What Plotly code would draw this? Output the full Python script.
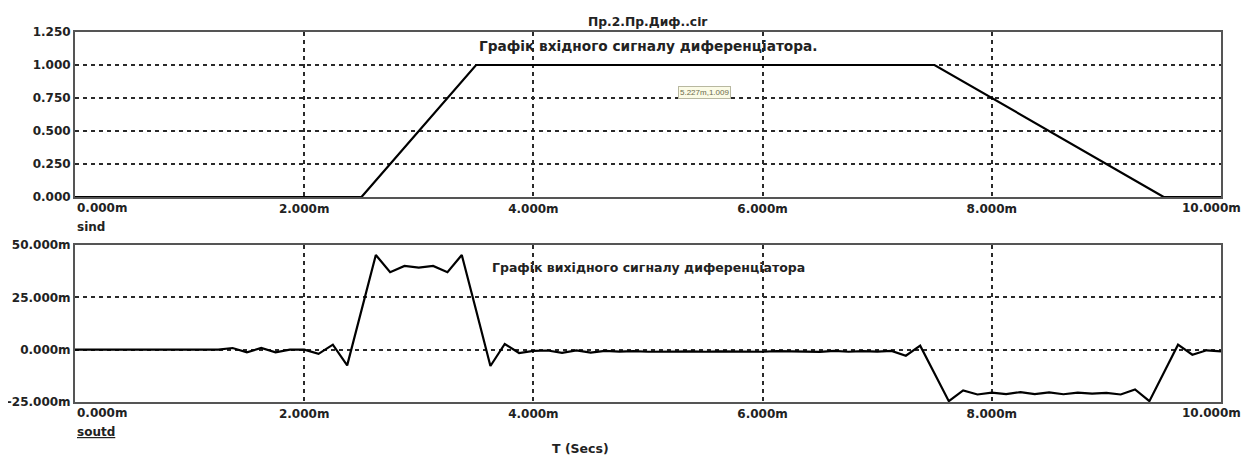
import plotly.graph_objects as go

# ---- data ----
t_in = [0.0, 2.5, 3.5, 7.5, 9.5, 10.0]          # ms
v_in = [0.0, 0.0, 1.0, 1.0, 0.0, 0.0]

t_out = [0.0, 0.125, 0.25, 0.375, 0.5, 0.625, 0.75, 0.875, 1.0, 1.125,
         1.25, 1.375, 1.5, 1.625, 1.75, 1.875, 2.0, 2.125, 2.25, 2.375,
         2.5, 2.625, 2.75, 2.875, 3.0, 3.125, 3.25, 3.375, 3.5, 3.625,
         3.75, 3.875, 4.0, 4.125, 4.25, 4.375, 4.5, 4.625, 4.75, 4.875,
         5.0, 5.125, 5.25, 5.375, 5.5, 5.625, 5.75, 5.875, 6.0, 6.125,
         6.25, 6.375, 6.5, 6.625, 6.75, 6.875, 7.0, 7.125, 7.25, 7.375,
         7.5, 7.625, 7.75, 7.875, 8.0, 8.125, 8.25, 8.375, 8.5, 8.625,
         8.75, 8.875, 9.0, 9.125, 9.25, 9.375, 9.5, 9.625, 9.75, 9.875,
         10.0]
v_out = [0, 0, 0, 0, 0, 0, 0, 0, 0, 0,
         0, 0.8, -1.3, 0.8, -1.3, 0.0, 0.0, -2.0, 2.4, -7.5,
         18.8, 45.2, 37.0, 40.0, 39.2, 40.0, 37.0, 45.2, 18.8, -7.8,
         2.7, -1.6, -0.6, -0.4, -1.5, -0.3, -1.4, -0.6, -0.9, -0.7,
         -1.0, -0.8, -0.9, -0.8, -1.0, -0.8, -0.9, -0.8, -1.0, -0.7,
         -0.9, -0.8, -1.1, -0.6, -1.0, -0.7, -0.9, -0.6, -2.9, 1.9,
         -11.4, -24.6, -19.5, -21.4, -20.5, -21.2, -20.3, -21.2, -20.4, -21.3,
         -20.5, -21.0, -20.6, -21.4, -19.0, -24.6, -11.1, 2.4, -2.4, -0.3,
         -0.8]

x_ticks = [2, 4, 6, 8]
x_ticktext = ["2.000m", "4.000m", "6.000m", "8.000m"]
x_first_label = "0.000m"
x_last_label = "10.000m"
y1_ticks = [0, 0.25, 0.5, 0.75, 1.0, 1.25]
y1_ticktext = ["0.000", "0.250", "0.500", "0.750", "1.000", "1.250"]
y2_ticks = [-25, 0, 25, 50]
y2_ticktext = ["-25.000m", "0.000m", "25.000m", "50.000m"]

title_text = "Пр.2.Пр.Диф..cir"
top_label = "Графік вхідного сигналу диференціатора."
bot_label = "Графік вихідного сигналу диференціатора"
cursor_text = "5.227m,1.009"

FONT = "DejaVu Sans, Verdana, sans-serif"
TXT = "#222222"
GRID = "#2a2a2a"
FRAME = "#555555"

fig = go.Figure()
fig.add_trace(go.Scatter(x=t_in, y=v_in, mode="lines", xaxis="x", yaxis="y",
                         line=dict(color="black", width=2.2), showlegend=False))
fig.add_trace(go.Scatter(x=t_out, y=v_out, mode="lines", xaxis="x2", yaxis="y2",
                         line=dict(color="black", width=2.2), showlegend=False))

axis_common = dict(showline=True, mirror=True, linecolor=FRAME, linewidth=2,
                   showgrid=True, gridcolor=GRID, gridwidth=1.5, griddash="4px,4px",
                   zeroline=False, ticks="", automargin=False,
                   tickfont=dict(family=FONT, size=12, color=TXT, weight="bold"))

# page has an 8px body margin; figure is sized/offset to compensate
fig.update_layout(
    width=1250, height=447,
    margin=dict(l=67, r=37, t=24, b=53),
    paper_bgcolor="white", plot_bgcolor="white",
    xaxis=dict(domain=[0, 1], anchor="y", range=[0, 10], tickvals=x_ticks,
               ticktext=x_ticktext, **axis_common),
    yaxis=dict(domain=[0.554, 1], anchor="x", range=[0, 1.25], tickvals=y1_ticks,
               ticktext=y1_ticktext, **axis_common),
    xaxis2=dict(domain=[0, 1], anchor="y2", range=[0, 10], tickvals=x_ticks,
                ticktext=x_ticktext, **axis_common),
    yaxis2=dict(domain=[0, 0.4243], anchor="x2", range=[-25, 50], tickvals=y2_ticks,
                ticktext=y2_ticktext, **axis_common),
)

bold12 = dict(family=FONT, size=12, color=TXT, weight="bold")
ann = []
for xr, yr in (("x", "y domain"), ("x2", "y2 domain")):
    ann.append(dict(text=x_first_label, x=0, y=0, xref=xr, yref=yr, xanchor="left",
                    yanchor="top", yshift=-2, showarrow=False, font=bold12))
    ann.append(dict(text=x_last_label, x=10, y=0, xref=xr, yref=yr, xanchor="right",
                    yanchor="top", yshift=-2, xshift=22, showarrow=False, font=bold12))
ann += [
    dict(text=title_text, x=0.5, y=1, xref="paper", yref="paper", xanchor="center",
         yanchor="bottom", yshift=1, showarrow=False,
         font=dict(family=FONT, size=12.3, color=TXT, weight="bold")),
    dict(text=top_label, x=0.5, y=1, xref="paper", yref="y domain", xanchor="center",
         yanchor="middle", yshift=-14, showarrow=False,
         font=dict(family=FONT, size=13.7, color=TXT, weight="bold")),
    dict(text=bot_label, x=0.5, y=1, xref="paper", yref="y2 domain", xanchor="center",
         yanchor="middle", yshift=-22, showarrow=False,
         font=dict(family=FONT, size=12.5, color=TXT, weight="bold")),
    dict(text=cursor_text, x=5.49, y=0.788, xref="x", yref="y", showarrow=False,
         font=dict(family="Liberation Sans, Arial", size=8, color="#6b6b4a"),
         bgcolor="#fbfbe6", bordercolor="#b8b8a0", borderwidth=1, borderpad=1),
    dict(text="sind", x=0, y=0, xref="paper", yref="y domain", xanchor="left",
         yanchor="top", yshift=-21, showarrow=False, font=bold12),
    dict(text="<u>soutd</u>", x=0, y=0, xref="paper", yref="y2 domain", xanchor="left",
         yanchor="top", yshift=-21, showarrow=False, font=bold12),
    dict(text="T (Secs)", x=4.41, y=0, xref="x2", yref="paper", xanchor="center",
         yanchor="top", yshift=-37, showarrow=False,
         font=dict(family=FONT, size=12.5, color=TXT, weight="bold")),
]
fig.update_layout(annotations=ann)

fig.write_html("out.html")
